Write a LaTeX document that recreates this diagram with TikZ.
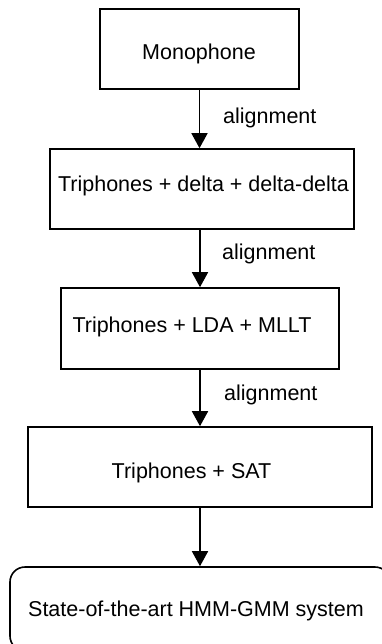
\documentclass[tikz,border=0pt]{standalone}
\usepackage{fontspec}
\setmainfont{Liberation Sans}
\usetikzlibrary{arrows.meta,calc}

\tikzset{
  stagebox/.style={draw, line width=1.6pt, rectangle, inner sep=0pt},
  resultbox/.style={draw, line width=1.6pt, rectangle, rounded corners=15pt, inner sep=0pt},
  caption/.style={anchor=base, inner sep=0pt, font=\fontsize{21.5}{26}\selectfont},
  steplabel/.style={anchor=base west, inner sep=0pt, font=\fontsize{21.5}{26}\selectfont},
  flow/.style={line width=1.6pt, -{Triangle[width=16pt,length=15pt]}},
}

\begin{document}
\begin{tikzpicture}[x=1pt,y=-1pt]
  \useasboundingbox (0,0) rectangle (382,644);
  \clip (0,0) rectangle (382,644);

  % training stages
  \node[stagebox, minimum width=199pt, minimum height=80pt] (b1) at (199.5,49) {};
  \node[stagebox, minimum width=304pt, minimum height=80pt] (b2) at (202,189) {};
  \node[stagebox, minimum width=278pt, minimum height=81pt] (b3) at (200,328.5) {};
  \node[stagebox, minimum width=344pt, minimum height=80pt] (b4) at (200,467) {};
  \node[resultbox, minimum width=380pt, minimum height=84pt] (b5) at (200,609) {};

  % stage captions
  \node[caption] (t1) at (199,60) {Monophone};
  \node[caption] (t2) at (203.5,192) {Triphones + delta + delta-delta};
  \node[caption] (t3) at (192,332) {Triphones + LDA + MLLT};
  \node[caption] (t4) at (191.5,478) {Triphones + SAT};
  \node[caption] (t5) at (196,616) {State-of-the-art HMM-GMM system};

  % connectors
  \draw[flow] (b1.south) -- (b1.south |- b2.north);
  \draw[flow] (b3.north |- b2.south) -- (b3.north);
  \draw[flow] (b3.south) -- (b4.north);
  \draw[flow] (b4.south) -- (b4.south |- b5.north);

  % connector labels
  \node[steplabel] (l1) at (223,124) {alignment};
  \node[steplabel] (l2) at (222,259) {alignment};
  \node[steplabel] (l3) at (224,400) {alignment};
\end{tikzpicture}
\end{document}
